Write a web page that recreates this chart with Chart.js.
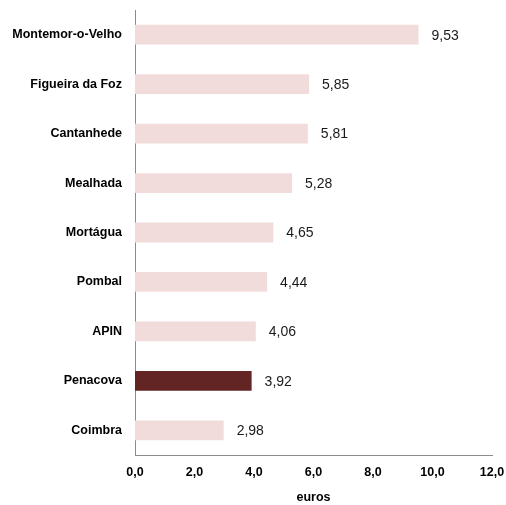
<!DOCTYPE html>
<html>
<head>
<meta charset="utf-8">
<script src="https://cdn.jsdelivr.net/npm/chart.js@4.4.0/dist/chart.umd.min.js"></script>
<style>
  body { margin: 0; background: #fff; }
  #wrap { width: 506px; height: 505px; }
</style>
</head>
<body>
<div id="wrap"><canvas id="chart" width="506" height="505"></canvas></div>
<script>
// Dados do gráfico
const concelhos = ['Montemor-o-Velho', 'Figueira da Foz', 'Cantanhede', 'Mealhada', 'Mortágua', 'Pombal', 'APIN', 'Penacova', 'Coimbra'];
const valores = [9.53, 5.85, 5.81, 5.28, 4.65, 4.44, 4.06, 3.92, 2.98];
const destaque = 'Penacova';
const xTicks = [0, 2, 4, 6, 8, 10, 12];

const COR_BASE = '#f2dcdb';
const COR_DESTAQUE = '#632523';
const FONTE = '"Liberation Sans", Arial, sans-serif';

const virgula = (v, d) => v.toFixed(d).replace('.', ',');

// Rótulos de valor à direita das barras
const rotulosValor = {
    id: 'rotulosValor',
    afterDatasetsDraw(chart) {
        const ctx = chart.ctx;
        const meta = chart.getDatasetMeta(0);
        ctx.save();
        ctx.font = '14px ' + FONTE;
        ctx.fillStyle = '#1a1a1a';
        ctx.textBaseline = 'middle';
        ctx.textAlign = 'left';
        meta.data.forEach((bar, i) => {
            ctx.fillText(virgula(valores[i], 2), bar.x + 13, bar.y + 1);
        });
        ctx.restore();
    }
};

new Chart(document.getElementById('chart'), {
    type: 'bar',
    data: {
        labels: concelhos,
        datasets: [{
            data: valores,
            backgroundColor: concelhos.map(c => c === destaque ? COR_DESTAQUE : COR_BASE),
            barPercentage: 0.4,
            categoryPercentage: 1.0
        }]
    },
    options: {
        indexAxis: 'y',
        responsive: false,
        animation: false,
        layout: { padding: { top: 10, right: 14, left: 0, bottom: 0 } },
        plugins: {
            legend: { display: false },
            tooltip: { enabled: false }
        },
        scales: {
            x: {
                min: 0,
                max: 12,
                afterBuildTicks: scale => { scale.ticks = xTicks.map(v => ({ value: v })); },
                afterFit: scale => {
                    scale.height = 50;
                    scale.paddingLeft = 0;
                    scale.paddingRight = 0;
                },
                ticks: {
                    callback: v => virgula(v, 1),
                    color: '#000',
                    font: { family: FONTE, size: 12.5, weight: 'bold' },
                    padding: 10,
                    maxRotation: 0
                },
                grid: { display: false, drawTicks: false },
                border: { display: true, color: '#8c8c8c', width: 1 },
                title: {
                    display: true,
                    text: 'euros',
                    color: '#000',
                    font: { family: FONTE, size: 12.5, weight: 'bold' },
                    padding: { top: 9, bottom: 0 }
                }
            },
            y: {
                afterFit: scale => {
                    scale.width = 135;
                    scale.paddingTop = 0;
                    scale.paddingBottom = 0;
                },
                ticks: {
                    color: '#000',
                    font: { family: FONTE, size: 12.5, weight: 'bold' },
                    padding: 13
                },
                grid: { display: false, drawTicks: false },
                border: { display: true, color: '#8c8c8c', width: 1 }
            }
        }
    },
    plugins: [rotulosValor]
});
</script>
</body>
</html>
